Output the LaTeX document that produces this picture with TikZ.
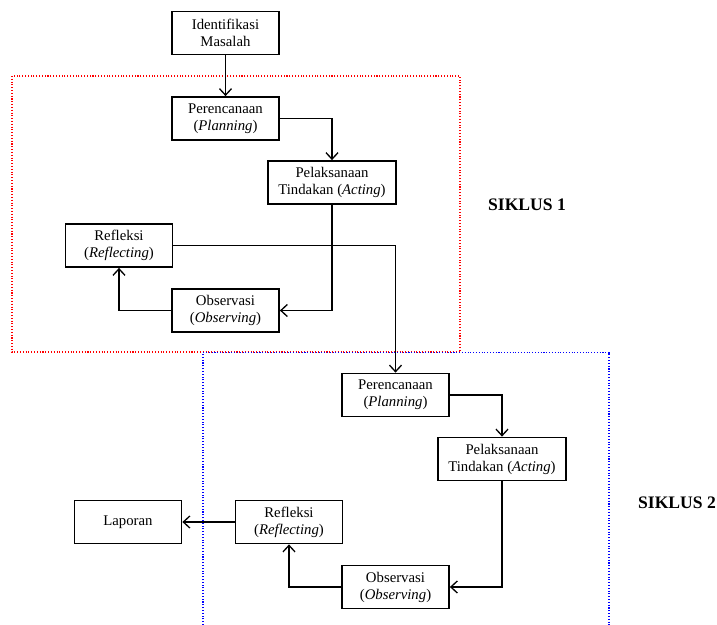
\documentclass[tikz,border=0pt]{standalone}
\usepackage{fontspec}
\setmainfont{Liberation Serif}
\usepackage{tikz}
\usetikzlibrary{arrows.meta, positioning}
\tikzset{
    stage/.style={
        rectangle,
        line width=1pt,
        draw=black,
        fill=white,
        align=center,
        minimum width=2.14cm,
        minimum height=0.86cm,
        inner sep=1pt,
        font=\fontsize{8.4}{9.7}\selectfont,
    },
    wide/.style={
        minimum width=2.56cm,
    },
    cyclebox/.style={
        -,
        densely dotted,
        line width=0.6pt,
    },
    title/.style={
        font=\bfseries\fontsize{10}{12}\selectfont,
    },
}

\begin{document}
\begin{tikzpicture}[-{Straight Barb[length=1.3mm,width=2.4mm]}, line width=0.75pt, on grid]
      \useasboundingbox (0,0) rectangle (14.34,-12.5);
      \draw[cyclebox, red] (0.24,-1.52) rectangle (9.2,-7.04);
      \draw[cyclebox, blue] (4.06,-12.5) |- (12.18,-7.05) -- (12.18,-12.5);

      \node[stage] (id) at (4.51,-0.66) {Identifikasi\\Masalah};

      % siklus 1
      \node[stage, below=1.71cm of id] (pl1) {Perencanaan\\(\textit{Planning})};
      \node[stage, wide, below right=1.28cm and 2.13cm of pl1] (ac1) {Pelaksanaan\\Tindakan (\textit{Acting})};
      \node[stage, below=3.84cm of pl1] (ob1) {Observasi\\(\textit{Observing})};
      \node[stage, below left=2.54cm and 2.13cm of pl1] (rf1) {Refleksi\\(\textit{Reflecting})};

      % siklus 2
      \node[stage, below right=5.53cm and 3.4cm of pl1] (pl2) {Perencanaan\\(\textit{Planning})};
      \node[stage, wide, below right=1.28cm and 2.13cm of pl2] (ac2) {Pelaksanaan\\Tindakan (\textit{Acting})};
      \node[stage, below=3.84cm of pl2] (ob2) {Observasi\\(\textit{Observing})};
      \node[stage, below left=2.54cm and 2.13cm of pl2] (rf2) {Refleksi\\(\textit{Reflecting})};
      \node[stage, left=3.22cm of rf2] (lap) {Laporan};

      \node[title] (s1) at (10.54,-4.1) {SIKLUS 1};
      \node[title] (s2) at (13.54,-10.06) {SIKLUS 2};

      \draw (id) -- (pl1);
      \draw (pl1.east) -| (ac1.north);
      \draw (ac1.south) |- (ob1.east);
      \draw (ob1.west) -| (rf1.south);
      \draw (rf1.east) -| (pl2.north);
      \draw (pl2.east) -| (ac2.north);
      \draw (ac2.south) |- (ob2.east);
      \draw (ob2.west) -| (rf2.south);
      \draw (rf2) -- (lap);
\end{tikzpicture}
\end{document}
